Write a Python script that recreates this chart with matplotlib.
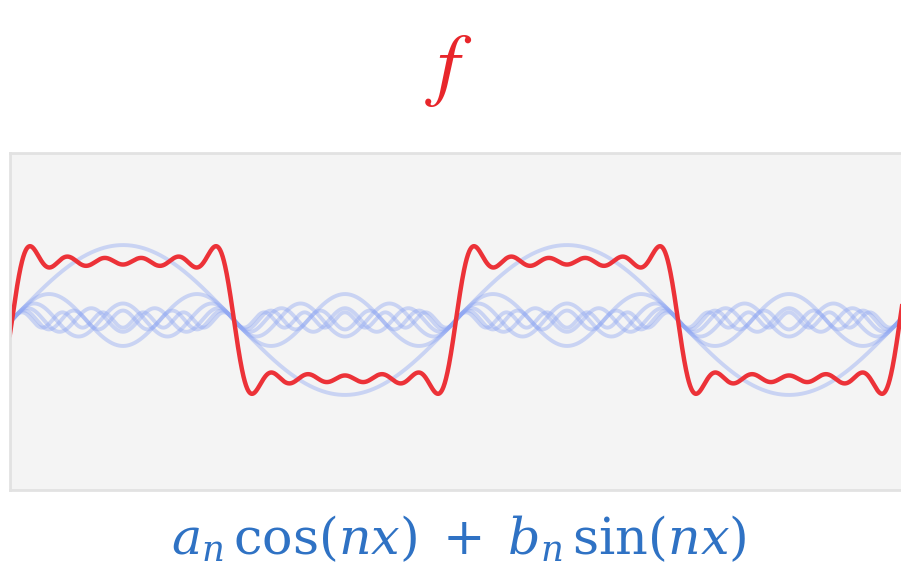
import matplotlib.pyplot as plt
import numpy as np

# Fourier components (square wave, odd harmonics)
harmonics = [1, 3, 5, 7, 9, 11]
amplitudes = [1.27, 0.44, 0.28, 0.2, 0.16, 0.13]

title_text = "$f$"
formula_text = r"$a_n\,\cos(nx)\;+\;b_n\,\sin(nx)$"

fig = plt.figure(figsize=(9.01, 5.77), dpi=100)

# panel: px 10..910 wide, 153..490 tall
ax = fig.add_axes([10 / 901, 1 - 490 / 577, 900 / 901, 337 / 577])
ax.set_facecolor("#f4f4f4")
for s in ax.spines.values():
    s.set_color("#e2e2e2")
    s.set_linewidth(2)
ax.set_xticks([])
ax.set_yticks([])

x = np.linspace(-0.1, 4.1 * np.pi, 3000)
total = np.zeros_like(x)
for n, b in zip(harmonics, amplitudes):
    comp = b * np.sin(n * x)
    total += comp
    ax.plot(x, comp, color="#8ea6f2", alpha=0.42, lw=2.8, solid_capstyle="round")

ax.plot(x, total, color="#ec3238", lw=3.2)

ax.set_xlim(-2 / 222 * np.pi, 898 / 222 * np.pi)
ax.set_ylim(-(490 - 320) / 59, (320 - 153) / 59)

fig.text(449 / 901, 1 - 70 / 577, title_text, color="#e8262b",
         fontsize=58, ha="center", va="center", math_fontfamily="stix")
fig.text(459 / 901, 1 - 540 / 577, formula_text, color="#2f72c4",
         fontsize=36.5, ha="center", va="center", math_fontfamily="dejavuserif")

fig.savefig("out.png", dpi=100)
